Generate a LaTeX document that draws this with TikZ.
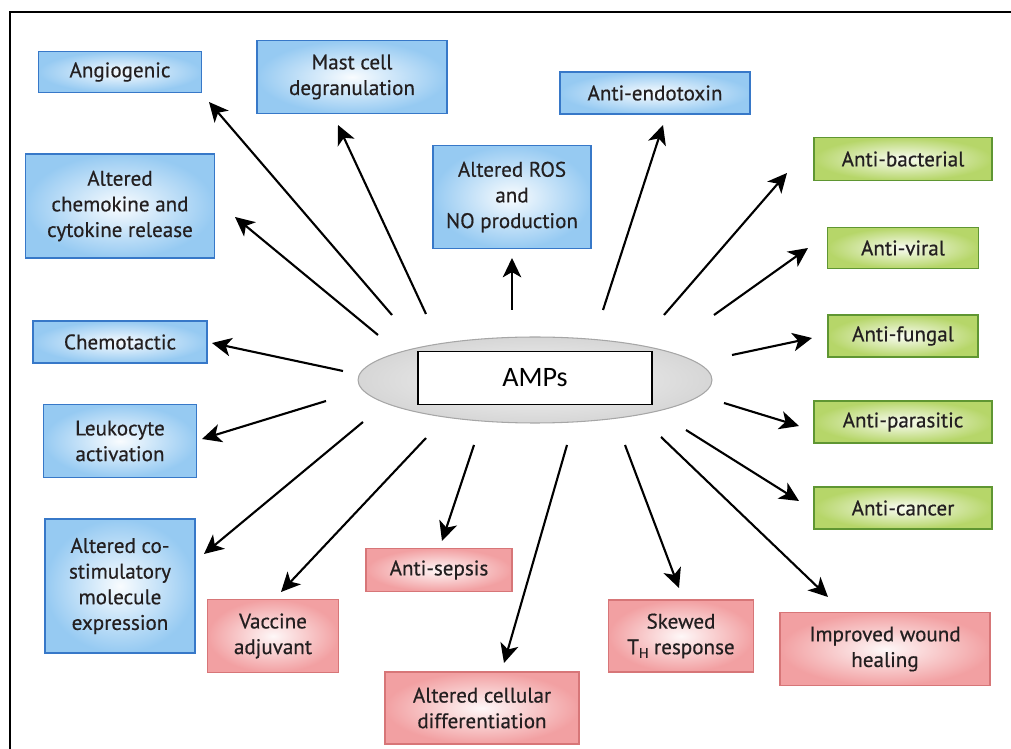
\documentclass[tikz,border=0pt]{standalone}
\usepackage{fontspec}
\setmainfont{PT Sans}[UprightFeatures={FakeBold=0.5}]
\newfontfamily\ampfont{Carlito}
\usetikzlibrary{shapes.geometric,arrows.meta}

\definecolor{bluefill}{RGB}{150,202,242}
\definecolor{blueline}{RGB}{55,120,200}
\definecolor{greenfill}{RGB}{182,214,105}
\definecolor{greenline}{RGB}{95,150,50}
\definecolor{redfill}{RGB}{242,160,162}
\definecolor{redline}{RGB}{215,118,120}
\definecolor{txt}{RGB}{35,31,32}

\begin{document}
\begin{tikzpicture}[
    x=0.02cm, y=-0.02cm,
    box/.style={rectangle, align=center, inner sep=0pt, text=txt, line width=0.9pt,
        font=\fontsize{12}{14.6}\selectfont},
    bluebox/.style={box, draw=blueline, inner color=white!94!bluefill, outer color=bluefill},
    greenbox/.style={box, draw=greenline, inner color=white!92!greenfill, outer color=greenfill},
    redbox/.style={box, draw=redline, inner color=white!92!redfill, outer color=redfill},
    effect/.style={line width=1.2pt, -{Stealth[length=11pt,width=10.5pt,inset=3pt]}}
]
\useasboundingbox (0,0) rectangle (1011,749);
\draw[line width=1.2pt] (1011,12) -- (10,12) -- (10,749);

% centre
\node [ellipse, draw=gray!70, line width=0.6pt, inner color=gray!8, outer color=gray!32,
    minimum width=7.08cm, minimum height=1.72cm] (ampcloud) at (535,380) {};
\node [rectangle, draw, fill=white, line width=0.8pt, minimum width=4.68cm, minimum height=1.06cm,
    font=\ampfont\fontsize{16}{18}\selectfont] (amp) at (535,378) {AMPs};

% blue: immunomodulatory
\node [bluebox, minimum width=3.26cm, minimum height=0.82cm] (angio) at (120,72) {Angiogenic};
\node [bluebox, minimum width=3.8cm, minimum height=1.46cm] (mast) at (352,77) {Mast cell\\degranulation};
\node [bluebox, minimum width=3.78cm, minimum height=2.08cm] (chemok) at (120,206) {Altered\\chemokine and\\cytokine release};
\node [bluebox, minimum width=3.16cm, minimum height=2.06cm] (ros) at (512,197) {Altered ROS\\and\\NO production};
\node [bluebox, minimum width=3.8cm, minimum height=0.84cm] (endo) at (655,93) {Anti-endotoxin};
\node [bluebox, minimum width=3.48cm, minimum height=0.84cm] (chemot) at (120,342) {Chemotactic};
\node [bluebox, minimum width=3.06cm, minimum height=1.46cm] (leuko) at (120,441) {Leukocyte\\activation};
\node [bluebox, minimum width=3.0cm, minimum height=2.68cm] (costim) at (120,586) {Altered co-\\stimulatory\\molecule\\expression};

% green: direct killing
\node [greenbox, minimum width=3.56cm, minimum height=0.86cm] (bact) at (903,159) {Anti-bacterial};
\node [greenbox, minimum width=3.02cm, minimum height=0.82cm] (viral) at (903,248) {Anti-viral};
\node [greenbox, minimum width=3.0cm, minimum height=0.84cm] (fungal) at (903,336) {Anti-fungal};
\node [greenbox, minimum width=3.56cm, minimum height=0.84cm] (parasit) at (903,422) {Anti-parasitic};
\node [greenbox, minimum width=3.56cm, minimum height=0.84cm] (cancer) at (903,508) {Anti-cancer};

% red: therapeutic
\node [redbox, minimum width=2.92cm, minimum height=0.86cm] (sepsis) at (439,570) {Anti-sepsis};
\node [redbox, minimum width=2.62cm, minimum height=1.46cm] (vaccine) at (273,636) {Vaccine\\adjuvant};
\node [redbox, minimum width=3.88cm, minimum height=1.44cm] (differ) at (482,708) {Altered cellular\\differentiation};
\node [redbox, minimum width=2.9cm, minimum height=1.44cm] (skewed) at (681,636) {Skewed\\T\raisebox{-0.35ex}{\fontsize{8}{8}\selectfont H} response};
\node [redbox, minimum width=4.2cm, minimum height=1.46cm] (wound) at (885,649) {Improved wound\\healing};

% arrows
\draw [effect] ([shift={(-143,-63)}]amp.center) -- ([shift={(89,30)}]angio.center);
\draw [effect] ([shift={(-109,-64)}]amp.center) -- ([shift={(-14,48)}]mast.center);
\draw [effect] ([shift={(-157,-43)}]amp.center) -- ([shift={(115,11)}]chemok.center);
\draw [effect] ([shift={(-23,-68)}]amp.center) -- ([shift={(0,61)}]ros.center);
\draw [effect] ([shift={(68,-68)}]amp.center) -- ([shift={(8,32)}]endo.center);
\draw [effect] ([shift={(129,-63)}]amp.center) -- ([shift={(-116,14)}]bact.center);
\draw [effect] ([shift={(179,-63)}]amp.center) -- ([shift={(-95,0)}]viral.center);
\draw [effect] ([shift={(197,-23)}]amp.center) -- ([shift={(-91,2)}]fungal.center);
\draw [effect] ([shift={(189,25)}]amp.center) -- ([shift={(-104,4)}]parasit.center);
\draw [effect] ([shift={(151,52)}]amp.center) -- ([shift={(-104,-7)}]cancer.center);
\draw [effect] ([shift={(126,59)}]amp.center) -- ([shift={(-57,-52)}]wound.center);
\draw [effect] ([shift={(90,67)}]amp.center) -- ([shift={(-2,-48)}]skewed.center);
\draw [effect] ([shift={(32,67)}]amp.center) -- ([shift={(22,-45)}]differ.center);
\draw [effect] ([shift={(-61,67)}]amp.center) -- ([shift={(3,-29)}]sepsis.center);
\draw [effect] ([shift={(-109,60)}]amp.center) -- ([shift={(8,-44)}]vaccine.center);
\draw [effect] ([shift={(-172,44)}]amp.center) -- ([shift={(84,-32)}]costim.center);
\draw [effect] ([shift={(-209,23)}]amp.center) -- ([shift={(82,-2)}]leuko.center);
\draw [effect] ([shift={(-192,-7)}]amp.center) -- ([shift={(92,1)}]chemot.center);

\end{tikzpicture}
\end{document}
